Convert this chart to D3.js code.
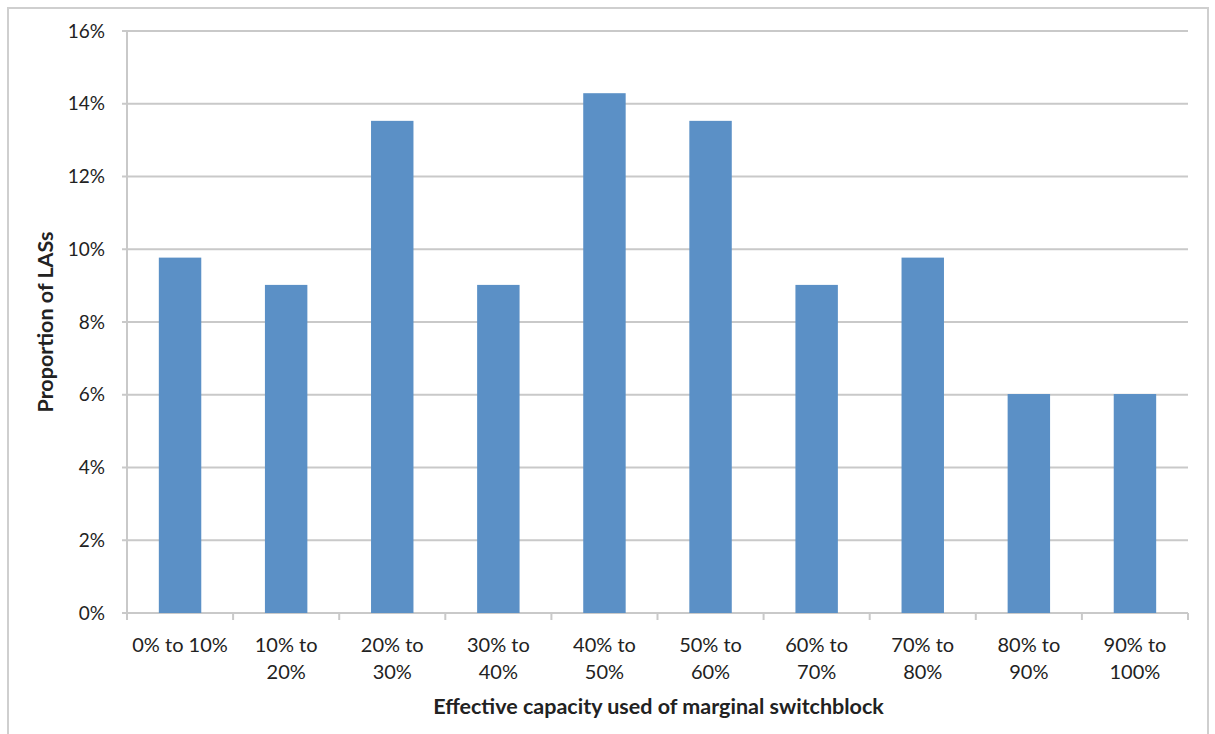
<!DOCTYPE html>
<html>
<head>
<meta charset="utf-8">
<script src="https://cdn.jsdelivr.net/npm/d3@7"></script>
<style>
  html, body { margin: 0; padding: 0; background: #fff; }
  svg { display: block; }
  text { font-family: Lato, "Open Sans", sans-serif; fill: #222; }
</style>
</head>
<body>
<svg id="chart" width="1215" height="734"></svg>
<script>
// Share of LASs by effective capacity used of the marginal switchblock
const categories = [
  ["0% to 10%"], ["10% to", "20%"], ["20% to", "30%"], ["30% to", "40%"],
  ["40% to", "50%"], ["50% to", "60%"], ["60% to", "70%"], ["70% to", "80%"],
  ["80% to", "90%"], ["90% to", "100%"]
];
const proportions = [9.77, 9.02, 13.53, 9.02, 14.29, 13.53, 9.02, 9.77, 6.02, 6.02];
const yTicks = [0, 2, 4, 6, 8, 10, 12, 14, 16];

const svg = d3.select("#chart");
const W = 1215, H = 734;
const m = { left: 127, right: 27, top: 31, bottom: 121 };

// outer chart frame
svg.append("rect")
  .attr("x", 8).attr("y", 8).attr("width", 1200).attr("height", 740)
  .attr("fill", "#fff").attr("stroke", "#cfcfcf").attr("stroke-width", 2);

const x = d3.scaleBand()
  .domain(d3.range(categories.length))
  .range([m.left, W - m.right])
  .paddingInner(0.6).paddingOuter(0.3);

const xCat = d3.scaleBand()
  .domain(d3.range(categories.length))
  .range([m.left, W - m.right]);

const y = d3.scaleLinear().domain([0, 16]).range([H - m.bottom, m.top]);

// gridlines
svg.append("g")
  .selectAll("line").data(yTicks).join("line")
  .attr("x1", m.left - 5).attr("x2", W - m.right)
  .attr("y1", d => y(d)).attr("y2", d => y(d))
  .attr("stroke", "#c9c9c9").attr("stroke-width", 2);

// y axis line
svg.append("line")
  .attr("x1", m.left).attr("x2", m.left)
  .attr("y1", y(16)).attr("y2", y(0))
  .attr("stroke", "#c9c9c9").attr("stroke-width", 2);

// y tick labels
svg.append("g")
  .selectAll("text").data(yTicks).join("text")
  .attr("x", m.left - 22).attr("y", d => y(d))
  .attr("dy", "0.35em").attr("text-anchor", "end")
  .attr("font-size", 19)
  .text(d => d + "%");

// bars
svg.append("g")
  .selectAll("rect").data(proportions).join("rect")
  .attr("x", (d, i) => x(i)).attr("width", x.bandwidth())
  .attr("y", d => y(d)).attr("height", d => y(0) - y(d))
  .attr("fill", "#5b90c6");

// x axis ticks (category boundaries)
const bounds = d3.range(categories.length + 1).map(i => m.left + i * xCat.step());
svg.append("g")
  .selectAll("line").data(bounds).join("line")
  .attr("x1", d => d).attr("x2", d => d)
  .attr("y1", y(0)).attr("y2", y(0) + 7)
  .attr("stroke", "#c9c9c9").attr("stroke-width", 2);

// category labels
const lab = svg.append("g")
  .selectAll("text").data(categories).join("text")
  .attr("text-anchor", "middle")
  .attr("font-size", 20)
  .attr("x", (d, i) => xCat(i) + xCat.bandwidth() / 2)
  .attr("y", 652);
lab.selectAll("tspan").data(d => d).join("tspan")
  .attr("x", function() { return d3.select(this.parentNode).attr("x"); })
  .attr("dy", (d, i) => i === 0 ? 0 : 27)
  .text(d => d);

// axis titles
svg.append("text")
  .attr("x", (m.left + W - m.right) / 2 + 1).attr("y", 714)
  .attr("text-anchor", "middle").attr("font-size", 21.5).attr("font-weight", "bold")
  .text("Effective capacity used of marginal switchblock");

svg.append("text")
  .attr("transform", `translate(53, ${(y(0) + y(16)) / 2}) rotate(-90)`)
  .attr("text-anchor", "middle").attr("font-size", 21.5).attr("font-weight", "bold")
  .text("Proportion of LASs");
</script>
</body>
</html>
